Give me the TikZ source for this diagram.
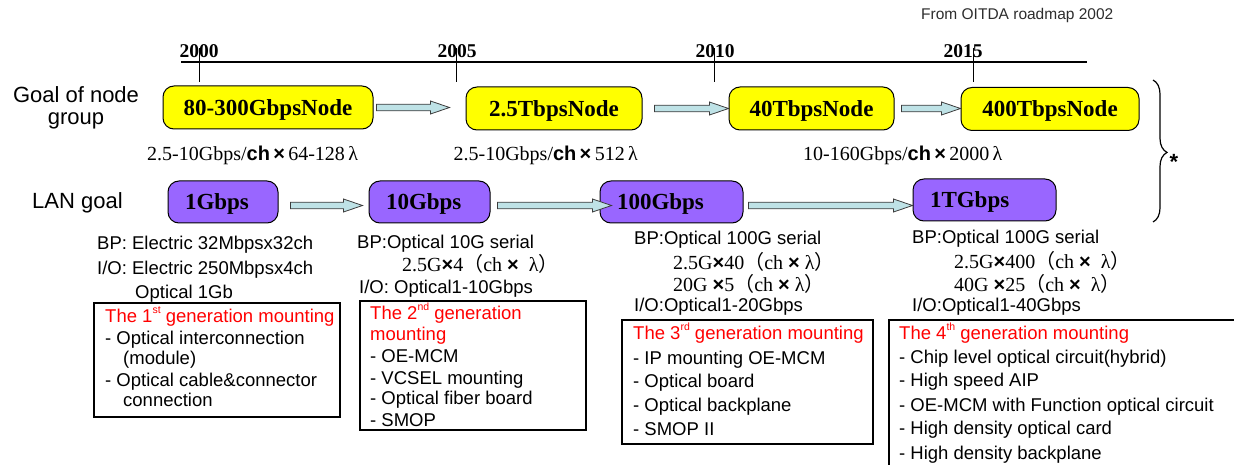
\documentclass[tikz,border=0pt]{standalone}
\usepackage{fontspec}
\setmainfont{Liberation Sans}
\newfontfamily\tserif{Liberation Serif}
\newfontfamily\lsans{Liberation Sans}
\newfontfamily\cjkjp{Noto Sans CJK JP}
\usetikzlibrary{calc,decorations.pathreplacing}
\definecolor{nodeyellow}{RGB}{255,255,0}
\definecolor{lanpurple}{RGB}{153,102,255}
\definecolor{arrowfill}{RGB}{190,226,230}
\definecolor{arrowline}{RGB}{60,60,60}
\definecolor{gentitle}{RGB}{255,0,0}
\definecolor{srcgray}{RGB}{45,45,45}
\newcommand{\fsz}[1]{\fontsize{#1}{#1}\selectfont}
\newcommand{\sups}[1]{\raisebox{0.5em}{\fsz{10.5}#1}}
\newcommand{\lpar}{{\cjkjp （}}
\newcommand{\rpar}{{\cjkjp ）}}
\newcommand{\tms}{{\lsans\bfseries ×}}
\begin{document}
\begin{tikzpicture}[x=1pt,y=-1pt,
  yearlbl/.style={font=\tserif\bfseries\fsz{19.5}, inner sep=0pt, anchor=base},
  goalbox/.style={draw=black, line width=1pt, fill=nodeyellow, rounded corners=11pt,
    minimum height=43pt, inner sep=0pt, text height=15.2pt, text depth=0pt,
    font=\tserif\bfseries\fsz{23}},
  lanbox/.style={draw=black, line width=1pt, fill=lanpurple, rounded corners=11pt,
    minimum height=42pt, inner xsep=17pt, inner ysep=0pt, align=left,
    text height=15.2pt, text depth=0pt, font=\tserif\bfseries\fsz{23}},
  rowlbl/.style={anchor=base, inner sep=0pt, font=\fsz{22}},
  rate/.style={inner sep=0pt, font=\tserif\fsz{20}},
  bt/.style={anchor=base west, inner sep=0pt, font=\fsz{18.5}},
  gt/.style={bt, text=gentitle},
  ft/.style={anchor=base west, inner sep=0pt, font=\tserif\fsz{20}},
  genbox/.style={draw=black, line width=1.6pt},
  blockarrow/.style={draw=arrowline, fill=arrowfill, line width=0.8pt,
    to path={let \p1=(\tikztostart), \p2=(\tikztotarget) in
      (\x1,\y1+3.3pt) -- (\x2-19pt,\y1+3.3pt) -- (\x2-19pt,\y1+6.5pt) -- (\x2,\y1)
      -- (\x2-19pt,\y1-6.5pt) -- (\x2-19pt,\y1-3.3pt) -- (\x1,\y1-3.3pt) -- cycle}}
]
\useasboundingbox (0,0) rectangle (1234,465);

% source note
\node[anchor=base west, inner sep=0pt, font=\fsz{15.5}, text=srcgray] (src) at (921,20) {From OITDA roadmap 2002};

% timeline
\coordinate (tlA) at (181,62);
\coordinate (tlB) at (1087,62);
\draw[line width=1.2pt] (tlA) -- (tlB);
\node[yearlbl] (y2000) at (199,58) {2000};
\node[yearlbl] (y2005) at (457,58) {2005};
\node[yearlbl] (y2010) at (715,58) {2010};
\node[yearlbl] (y2015) at (963,58) {2015};
\foreach \tx in {199,456,714,973}{
  \draw[line width=1pt] (\tx,48) -- (\tx,82);
}

% row labels
\node[rowlbl] (goal1) at (76,103) {Goal of node};
\node[rowlbl] (goal2) at (76,125) {group};
\node[rowlbl, anchor=base west] (lan) at (32,209) {LAN goal};

% goal of node group boxes
\node[goalbox, minimum width=210pt] (g1) at (268,107.5) {80-300GbpsNode};
\node[goalbox, minimum width=176pt] (g2) at (554,108.5) {2.5TbpsNode};
\node[goalbox, minimum width=165pt] (g3) at (811.5,108.5) {40TbpsNode};
\node[goalbox, minimum width=178pt] (g4) at (1050,109) {400TbpsNode};

\draw[blockarrow] ([xshift=3pt]g1.east) to ([xshift=-16pt]g2.west);
\draw[blockarrow] ([xshift=12pt]g2.east) to (g3.west);
\draw[blockarrow] ([xshift=7pt]g3.east) to (g4.west);

% channel rates
\node[rate, anchor=base west] (r1) at (147,161) {2.5-10Gbps/{\lsans\bfseries ch}\,\tms\,64-128\,λ};
\node[rate, anchor=base east] (r2) at (638,161) {2.5-10Gbps/{\lsans\bfseries ch}\,\tms\,512\,λ};
\node[rate, anchor=base west] (r3) at (803,161) {10-160Gbps/{\lsans\bfseries ch}\,\tms\,2000\,λ};

% LAN boxes
\node[lanbox, text width=76pt] (p1) at (223,202) {1Gbps};
\node[lanbox, text width=87pt] (p2) at (429.5,202) {10Gbps};
\node[lanbox, text width=109pt] (p3) at (671.5,202) {100Gbps};
\node[lanbox, text width=109pt] (p4) at (984.5,200) {1TGbps};

\draw[blockarrow] ([shift={(12,3.5)}]p1.east) to ([xshift=-6pt]p2.west);
\draw[blockarrow] ([shift={(7,3.5)}]p2.east) to ([xshift=12pt]p3.west);
\draw[blockarrow] ([shift={(5,3.5)}]p3.east) to (p4.west);

% brace and asterisk
\coordinate (brTop) at (1153,80);
\coordinate (brBot) at (1153,222);
\draw[line width=1.2pt, decorate, decoration={brace, amplitude=14pt, aspect=0.51}] (brTop) -- (brBot);
\node[anchor=base, inner sep=0pt, font=\lsans\bfseries\fsz{22}] (star) at (1174,169.5) {*};

% column 1
\node[bt] (c1a) at (97,250) {BP: Electric 32Mbpsx32ch};
\node[bt] (c1b) at (97,274.5) {I/O: Electric 250Mbpsx4ch};
\node[bt] (c1c) at (135,298.5) {Optical 1Gb};
\draw[genbox] (94,303) rectangle (340,417);
\node[gt] (c1t) at (105,322.5) {The 1\sups{st} generation mounting};
\node[bt] (c1d) at (105,344.5) {- Optical interconnection};
\node[bt] (c1e) at (123,364.5) {(module)};
\node[bt] (c1f) at (105,386.5) {- Optical cable\&connector};
\node[bt] (c1g) at (123,406.5) {connection};

% column 2
\node[bt] (c2a) at (357,248.5) {BP:Optical 10G serial};
\node[ft] (c2b) at (402,271) {2.5G\tms 4\lpar ch \tms\ \ λ\rpar};
\node[bt] (c2c) at (359,293.5) {I/O: Optical1-10Gbps};
\draw[genbox] (360,301) rectangle (586,430);
\node[gt] (c2t) at (370,319.5) {The 2\sups{nd} generation};
\node[gt] (c2u) at (370,340.5) {mounting};
\node[bt] (c2d) at (370,362.5) {- OE-MCM};
\node[bt] (c2e) at (370,384.5) {- VCSEL mounting};
\node[bt] (c2f) at (370,404.5) {- Optical fiber board};
\node[bt] (c2g) at (370,426.5) {- SMOP};

% column 3
\node[bt] (c3a) at (634,244.5) {BP:Optical 100G serial};
\node[ft] (c3b) at (673,269.5) {2.5G\tms 40\lpar ch \tms\ λ\rpar};
\node[ft] (c3c) at (673,291.5) {20G \tms 5\lpar ch \tms\ λ\rpar};
\node[bt] (c3d) at (634,311.5) {I/O:Optical1-20Gbps};
\draw[genbox] (622,320) rectangle (873,444);
\node[gt] (c3t) at (633,339.5) {The 3\sups{rd} generation mounting};
\node[bt] (c3e) at (633,364.5) {- IP mounting OE-MCM};
\node[bt] (c3f) at (633,387.5) {- Optical board};
\node[bt] (c3g) at (633,411.5) {- Optical backplane};
\node[bt] (c3h) at (633,435.5) {- SMOP II};

% column 4
\node[bt] (c4a) at (912,243.5) {BP:Optical 100G serial};
\node[ft] (c4b) at (954,268.5) {2.5G\tms 400\lpar ch \tms\ \ λ\rpar};
\node[ft] (c4c) at (954,291.5) {40G \tms 25\lpar ch \tms\ \ λ\rpar};
\node[bt] (c4d) at (912,311.5) {I/O:Optical1-40Gbps};
\begin{scope}
  \clip (0,0) rectangle (1234,465);
  \draw[genbox] (889,320) rectangle (1250,480);
\end{scope}
\node[gt] (c4t) at (899,339.5) {The 4\sups{th} generation mounting};
\node[bt] (c4e) at (899,363.5) {- Chip level optical circuit(hybrid)};
\node[bt] (c4f) at (899,386.5) {- High speed AIP};
\node[bt] (c4g) at (899,411.5) {- OE-MCM with Function optical circuit};
\node[bt] (c4h) at (899,434.5) {- High density optical card};
\node[bt] (c4i) at (899,459.5) {- High density backplane};
\end{tikzpicture}
\end{document}
